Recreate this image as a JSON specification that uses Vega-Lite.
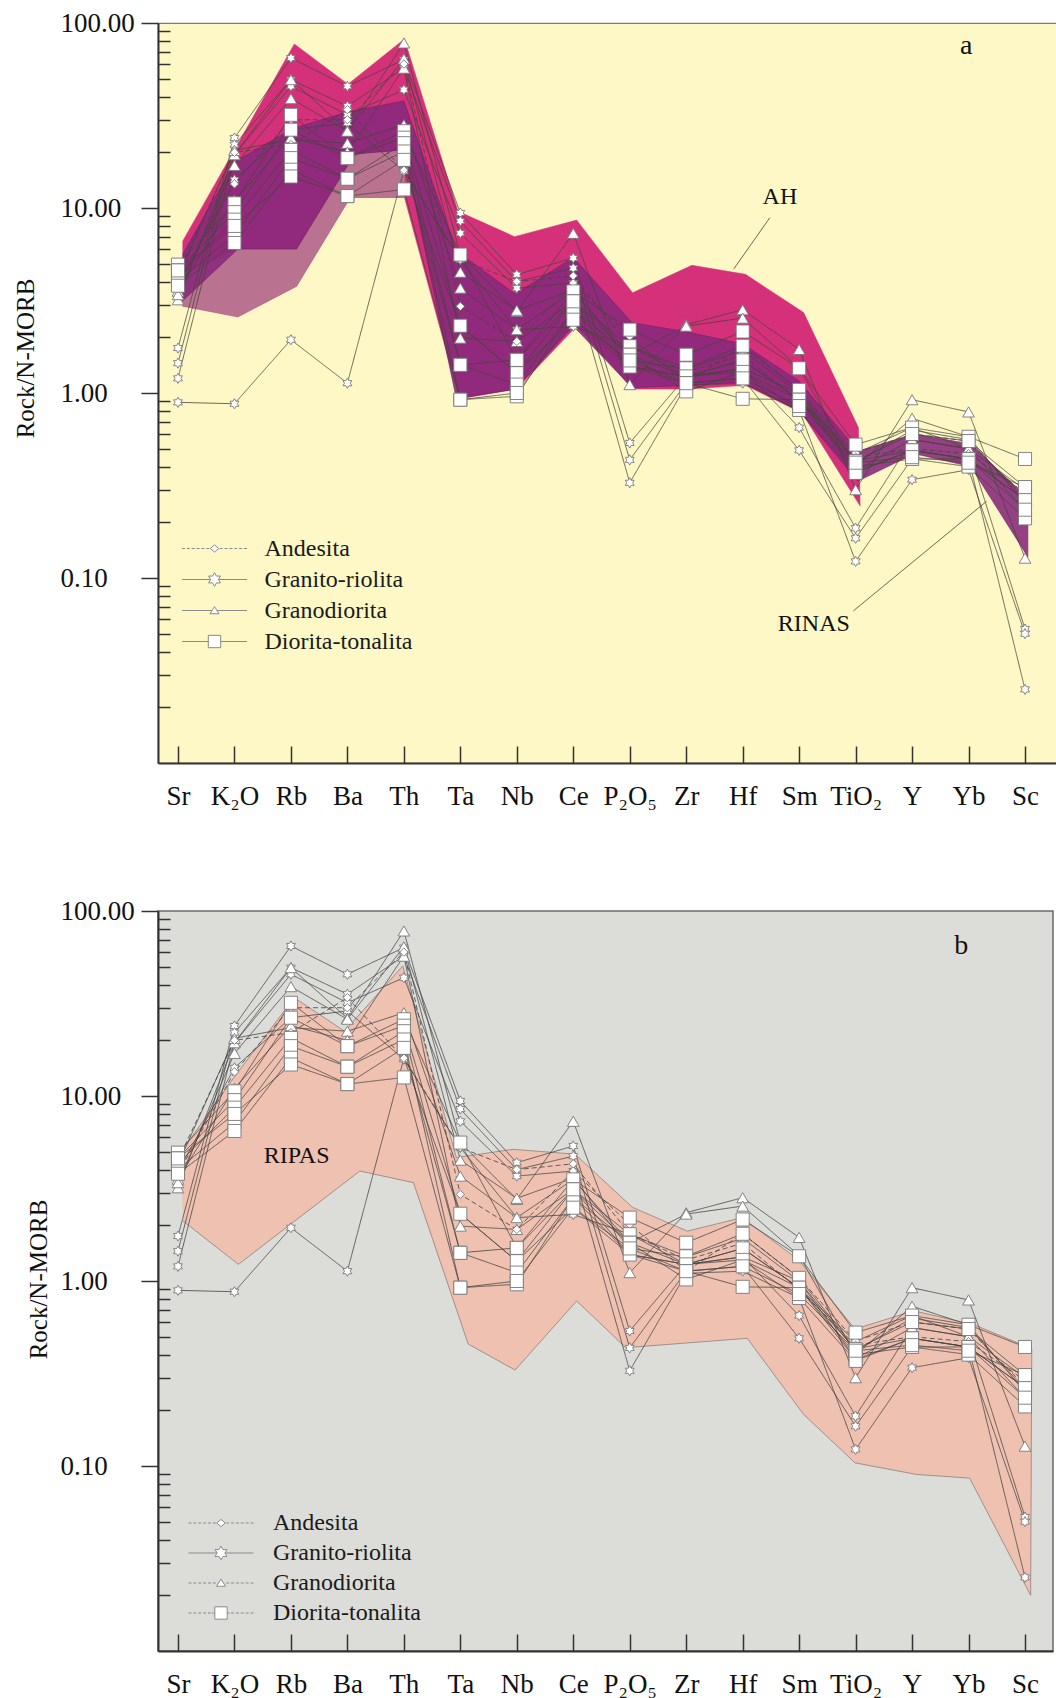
{
  "$schema": "https://vega.github.io/schema/vega-lite/v6.json",
  "padding": {"left": 12, "top": 8, "right": 0, "bottom": 0},
  "bounds": "flush",
  "spacing": 148,
  "background": "white",
  "config": {
    "font": "Liberation Serif",
    "axis": {"labelFont": "Liberation Serif", "titleFont": "Liberation Serif", "grid": false},
    "legend": {"labelFont": "Liberation Serif"}
  },
  "datasets": {
    "elements": [
      {"e": "Sr", "idx": 1}, {"e": "K2O", "idx": 2}, {"e": "Rb", "idx": 3}, {"e": "Ba", "idx": 4},
      {"e": "Th", "idx": 5}, {"e": "Ta", "idx": 6}, {"e": "Nb", "idx": 7}, {"e": "Ce", "idx": 8},
      {"e": "P2O5", "idx": 9}, {"e": "Zr", "idx": 10}, {"e": "Hf", "idx": 11}, {"e": "Sm", "idx": 12},
      {"e": "TiO2", "idx": 13}, {"e": "Y", "idx": 14}, {"e": "Yb", "idx": 15}, {"e": "Sc", "idx": 16}
    ],
    "types": [{"t": "Andesita"}, {"t": "Granito-riolita"}, {"t": "Granodiorita"}, {"t": "Diorita-tonalita"}],
    "samples": [
      {"s": "G1", "t": "Granito-riolita", "Sr": 0.89, "K2O": 0.875, "Rb": 1.94, "Ba": 1.13, "Th": 16, "Ta": 2.31, "Nb": 1.28, "Ce": 2.49, "P2O5": 1.39, "Zr": 1.23, "Hf": 1.3, "Sm": 0.92, "TiO2": 0.43, "Y": 0.49, "Yb": 0.44, "Sc": 0.265},
      {"s": "G2", "t": "Granito-riolita", "Sr": 1.75, "K2O": 23.9, "Rb": 64.7, "Ba": 45.5, "Th": 63.4, "Ta": 9.4, "Nb": 4.36, "Ce": 5.37, "P2O5": 0.537, "Zr": 1.23, "Hf": 1.35, "Sm": 0.65, "TiO2": 0.186, "Y": 0.56, "Yb": 0.5, "Sc": 0.053},
      {"s": "G3", "t": "Granito-riolita", "Sr": 1.45, "K2O": 22, "Rb": 49.4, "Ba": 35.5, "Th": 57.1, "Ta": 8.5, "Nb": 4.0, "Ce": 4.73, "P2O5": 0.435, "Zr": 1.13, "Hf": 1.2, "Sm": 0.49, "TiO2": 0.164, "Y": 0.44, "Yb": 0.44, "Sc": 0.025},
      {"s": "G4", "t": "Granito-riolita", "Sr": 1.2, "K2O": 19.4, "Rb": 45.5, "Ba": 31.9, "Th": 43.6, "Ta": 7.3, "Nb": 3.69, "Ce": 3.93, "P2O5": 0.327, "Zr": 1.1, "Hf": 1.13, "Sm": 0.81, "TiO2": 0.123, "Y": 0.34, "Yb": 0.385, "Sc": 0.05},
      {"s": "G5", "t": "Granito-riolita", "Sr": 3.9, "K2O": 14.2, "Rb": 26.5, "Ba": 28.8, "Th": 15.8, "Ta": 5.26, "Nb": 2.2, "Ce": 2.29, "P2O5": 1.79, "Zr": 1.23, "Hf": 1.5, "Sm": 0.92, "TiO2": 0.47, "Y": 0.65, "Yb": 0.5, "Sc": 0.3},
      {"s": "T1", "t": "Granodiorita", "Sr": 3.19, "K2O": 19.4, "Rb": 49.4, "Ba": 26.3, "Th": 78, "Ta": 5.6, "Nb": 2.76, "Ce": 7.3, "P2O5": 1.11, "Zr": 2.34, "Hf": 2.82, "Sm": 1.72, "TiO2": 0.3, "Y": 0.92, "Yb": 0.79, "Sc": 0.128},
      {"s": "T2", "t": "Granodiorita", "Sr": 4.27, "K2O": 20.5, "Rb": 23.4, "Ba": 22.4, "Th": 28.2, "Ta": 3.69, "Nb": 2.2, "Ce": 3.54, "P2O5": 1.61, "Zr": 2.3, "Hf": 2.54, "Sm": 1.37, "TiO2": 0.4, "Y": 0.73, "Yb": 0.58, "Sc": 0.25},
      {"s": "T3", "t": "Granodiorita", "Sr": 3.55, "K2O": 11, "Rb": 24, "Ba": 20, "Th": 57, "Ta": 1.98, "Nb": 1.9, "Ce": 3.13, "P2O5": 1.39, "Zr": 1.23, "Hf": 1.35, "Sm": 1.0, "TiO2": 0.38, "Y": 0.56, "Yb": 0.5, "Sc": 0.234},
      {"s": "T4", "t": "Granodiorita", "Sr": 3.4, "K2O": 17, "Rb": 39, "Ba": 26, "Th": 64, "Ta": 4.5, "Nb": 2.8, "Ce": 3.6, "P2O5": 1.5, "Zr": 1.35, "Hf": 1.7, "Sm": 1.0, "TiO2": 0.42, "Y": 0.63, "Yb": 0.56, "Sc": 0.26},
      {"s": "A1", "t": "Andesita", "Sr": 3.8, "K2O": 13.5, "Rb": 30, "Ba": 30, "Th": 60, "Ta": 2.94, "Nb": 1.9, "Ce": 3.93, "P2O5": 2.02, "Zr": 1.13, "Hf": 1.8, "Sm": 1.04, "TiO2": 0.474, "Y": 0.6, "Yb": 0.55, "Sc": 0.27},
      {"s": "A2", "t": "Andesita", "Sr": 4.5, "K2O": 20, "Rb": 22, "Ba": 34, "Th": 16, "Ta": 5.26, "Nb": 4.0, "Ce": 4.3, "P2O5": 1.8, "Zr": 1.3, "Hf": 1.6, "Sm": 0.9, "TiO2": 0.45, "Y": 0.5, "Yb": 0.47, "Sc": 0.29},
      {"s": "D1", "t": "Diorita-tonalita", "Sr": 4.94, "K2O": 10.6, "Rb": 31.9, "Ba": 18.6, "Th": 26, "Ta": 5.6, "Nb": 1.51, "Ce": 3.54, "P2O5": 2.2, "Zr": 1.61, "Hf": 2.15, "Sm": 1.36, "TiO2": 0.526, "Y": 0.65, "Yb": 0.58, "Sc": 0.44},
      {"s": "D2", "t": "Diorita-tonalita", "Sr": 4.6, "K2O": 9.5, "Rb": 26.5, "Ba": 18.6, "Th": 24, "Ta": 2.31, "Nb": 1.28, "Ce": 3.13, "P2O5": 1.79, "Zr": 1.36, "Hf": 1.8, "Sm": 1.04, "TiO2": 0.428, "Y": 0.6, "Yb": 0.55, "Sc": 0.31},
      {"s": "D3", "t": "Diorita-tonalita", "Sr": 4.3, "K2O": 8.65, "Rb": 20.6, "Ba": 14.4, "Th": 22.4, "Ta": 1.42, "Nb": 1.11, "Ce": 2.82, "P2O5": 1.61, "Zr": 1.23, "Hf": 1.5, "Sm": 0.92, "TiO2": 0.377, "Y": 0.49, "Yb": 0.44, "Sc": 0.265},
      {"s": "D4", "t": "Diorita-tonalita", "Sr": 4.0, "K2O": 7.17, "Rb": 18.6, "Ba": 14.4, "Th": 20.2, "Ta": 0.92, "Nb": 0.96, "Ce": 2.82, "P2O5": 1.39, "Zr": 1.13, "Hf": 0.93, "Sm": 0.92, "TiO2": 0.4, "Y": 0.44, "Yb": 0.4, "Sc": 0.21},
      {"s": "D5", "t": "Diorita-tonalita", "Sr": 3.8, "K2O": 6.47, "Rb": 16.1, "Ba": 11.6, "Th": 18.2, "Ta": 1.42, "Nb": 1.51, "Ce": 3.13, "P2O5": 1.61, "Zr": 1.02, "Hf": 1.3, "Sm": 0.81, "TiO2": 0.37, "Y": 0.49, "Yb": 0.44, "Sc": 0.234},
      {"s": "D6", "t": "Diorita-tonalita", "Sr": 4.6, "K2O": 8.0, "Rb": 14.8, "Ba": 11.6, "Th": 12.6, "Ta": 0.92, "Nb": 1.0, "Ce": 2.49, "P2O5": 1.5, "Zr": 1.13, "Hf": 1.2, "Sm": 0.85, "TiO2": 0.42, "Y": 0.45, "Yb": 0.42, "Sc": 0.31}
    ],
    "fa_pink": [
      {"i": 1, "p": 1.08, "v": 6.6}, {"i": 2, "p": 3.06, "v": 77}, {"i": 3, "p": 4.01, "v": 46.7}, {"i": 4, "p": 5.01, "v": 82},
      {"i": 5, "p": 5.96, "v": 9.6}, {"i": 6, "p": 6.96, "v": 7.0}, {"i": 7, "p": 8.06, "v": 8.6}, {"i": 8, "p": 9.05, "v": 3.48},
      {"i": 9, "p": 10.1, "v": 4.9}, {"i": 10, "p": 11.05, "v": 4.38}, {"i": 11, "p": 12.08, "v": 2.72}, {"i": 12, "p": 13.05, "v": 0.65},
      {"i": 13, "p": 13.08, "v": 0.245}, {"i": 14, "p": 12.05, "v": 0.78}, {"i": 15, "p": 11.05, "v": 1.1}, {"i": 16, "p": 10.05, "v": 1.05},
      {"i": 17, "p": 9.05, "v": 1.05}, {"i": 18, "p": 8.06, "v": 2.3}, {"i": 19, "p": 7.0, "v": 1.05}, {"i": 20, "p": 5.98, "v": 0.93},
      {"i": 21, "p": 5.01, "v": 11.4}, {"i": 22, "p": 4.05, "v": 11.4}, {"i": 23, "p": 3.1, "v": 3.78}, {"i": 24, "p": 2.06, "v": 2.58},
      {"i": 25, "p": 1.08, "v": 2.95}
    ],
    "fa_mauve": [
      {"i": 1, "p": 1.08, "v": 4.4}, {"i": 2, "p": 2.06, "v": 6.0}, {"i": 3, "p": 3.1, "v": 6.0}, {"i": 4, "p": 4.13, "v": 19.6},
      {"i": 5, "p": 5.01, "v": 20.6}, {"i": 6, "p": 5.01, "v": 11.4}, {"i": 7, "p": 4.05, "v": 11.4}, {"i": 8, "p": 3.1, "v": 3.78},
      {"i": 9, "p": 2.06, "v": 2.58}, {"i": 10, "p": 1.08, "v": 2.95}
    ],
    "fa_purple": [
      {"i": 1, "p": 1.08, "v": 5.6}, {"i": 2, "p": 2.02, "v": 17.9}, {"i": 3, "p": 3.05, "v": 27}, {"i": 4, "p": 4.0, "v": 33},
      {"i": 5, "p": 5.0, "v": 37.9}, {"i": 6, "p": 5.93, "v": 5.86}, {"i": 7, "p": 6.97, "v": 3.43}, {"i": 8, "p": 8.0, "v": 5.4},
      {"i": 9, "p": 9.04, "v": 2.4}, {"i": 10, "p": 10.08, "v": 2.12}, {"i": 11, "p": 11.0, "v": 1.84}, {"i": 12, "p": 12.0, "v": 1.16},
      {"i": 13, "p": 13.04, "v": 0.485}, {"i": 14, "p": 14.04, "v": 0.6}, {"i": 15, "p": 15.04, "v": 0.53}, {"i": 16, "p": 16.05, "v": 0.27},
      {"i": 17, "p": 16.05, "v": 0.13}, {"i": 18, "p": 15.04, "v": 0.4}, {"i": 19, "p": 14.04, "v": 0.47}, {"i": 20, "p": 13.04, "v": 0.334},
      {"i": 21, "p": 12.0, "v": 0.8}, {"i": 22, "p": 11.0, "v": 1.15}, {"i": 23, "p": 10.08, "v": 1.1}, {"i": 24, "p": 9.04, "v": 1.07},
      {"i": 25, "p": 8.0, "v": 2.3}, {"i": 26, "p": 6.97, "v": 1.05}, {"i": 27, "p": 5.93, "v": 0.93}, {"i": 28, "p": 5.0, "v": 20.6},
      {"i": 29, "p": 4.13, "v": 19.6}, {"i": 30, "p": 3.1, "v": 6.0}, {"i": 31, "p": 2.06, "v": 6.0}, {"i": 32, "p": 1.08, "v": 3.14}
    ],
    "fb_ripas": [
      {"i": 1, "p": 1.04, "v": 4.9}, {"i": 2, "p": 1.99, "v": 12.6}, {"i": 3, "p": 3.06, "v": 34}, {"i": 4, "p": 3.95, "v": 22.4},
      {"i": 5, "p": 4.98, "v": 50.5}, {"i": 6, "p": 5.93, "v": 4.65}, {"i": 7, "p": 6.93, "v": 5.15}, {"i": 8, "p": 8.03, "v": 4.85},
      {"i": 9, "p": 9.05, "v": 2.5}, {"i": 10, "p": 10.02, "v": 1.86}, {"i": 11, "p": 10.99, "v": 2.2}, {"i": 12, "p": 11.99, "v": 1.3},
      {"i": 13, "p": 12.99, "v": 0.55}, {"i": 14, "p": 14.03, "v": 0.69}, {"i": 15, "p": 15.1, "v": 0.58}, {"i": 16, "p": 16.12, "v": 0.43},
      {"i": 17, "p": 16.1, "v": 0.02}, {"i": 18, "p": 15.02, "v": 0.086}, {"i": 19, "p": 14.08, "v": 0.09}, {"i": 20, "p": 12.99, "v": 0.104},
      {"i": 21, "p": 12.08, "v": 0.19}, {"i": 22, "p": 11.08, "v": 0.49}, {"i": 23, "p": 8.93, "v": 0.436}, {"i": 24, "p": 8.06, "v": 0.78},
      {"i": 25, "p": 6.97, "v": 0.33}, {"i": 26, "p": 6.14, "v": 0.456}, {"i": 27, "p": 5.17, "v": 3.4}, {"i": 28, "p": 4.22, "v": 3.93},
      {"i": 29, "p": 2.07, "v": 1.23}, {"i": 30, "p": 1.09, "v": 2.11}
    ],
    "labels": [
      {"panel": "a", "kind": "field", "text": "AH", "p": 11.66, "v": 11.4},
      {"panel": "a", "kind": "field", "text": "RINAS", "p": 12.26, "v": 0.0562},
      {"panel": "a", "kind": "letter", "text": "a", "p": 14.96, "v": 75},
      {"panel": "b", "kind": "field", "text": "RIPAS", "p": 3.1, "v": 4.74},
      {"panel": "b", "kind": "letter", "text": "b", "p": 14.87, "v": 64.7}
    ],
    "leaders": [
      {"panel": "a", "p1": 11.48, "v1": 8.86, "p2": 10.84, "v2": 4.67},
      {"panel": "a", "p1": 12.96, "v1": 0.0664, "p2": 15.32, "v2": 0.26}
    ]
  },
  "resolve": {"scale": {"shape": "independent", "size": "independent", "strokeDash": "independent"}, "legend": {"shape": "independent"}},
  "vconcat": [
    {
      "width": 900,
      "height": 740,
      "view": {"fill": "#fdf8c5", "stroke": "#7a7a7a", "strokeWidth": 1.2},
      "resolve": {"axis": {"x": "independent", "y": "independent"}, "scale": {"shape": "independent", "size": "independent"}, "legend": {"shape": "independent"}},
      "layer": [
        {
          "data": {"name": "fa_pink"},
          "mark": {"type": "line", "fill": "#d5307a", "stroke": "#d5307a", "strokeWidth": 0.5},
          "encoding": {
            "x": {"field": "p", "type": "quantitative", "scale": {"domain": [0.646, 16.584], "nice": false, "zero": false},
              "axis": {"orient": "bottom", "values": [1,2,3,4,5,6,7,8,9,10,11,12,13,14,15,16], "labelExpr": "['Sr','K₂O','Rb','Ba','Th','Ta','Nb','Ce','P₂O₅','Zr','Hf','Sm','TiO₂','Y','Yb','Sc'][datum.value-1]", "ticks": false, "tickSize": 0, "domain": true, "domainColor": "#333333", "domainWidth": 2, "labelFontSize": 27, "labelColor": "#111111", "labelPadding": 20, "labelFlush": false, "labelOverlap": false, "labelBound": false, "labelDx": 7, "title": null, "grid": false}},
            "y": {"field": "v", "type": "quantitative", "scale": {"type": "log", "domain": [0.01, 100], "nice": false},
              "axis": {"orient": "left", "values": [0.1, 1, 10, 100], "format": ".2f", "tickSize": 17, "tickColor": "#333333", "tickWidth": 1.5, "domain": true, "domainColor": "#333333", "domainWidth": 2, "labelAlign": "left", "labelBaseline": "middle", "labelPadding": 81, "labelFontSize": 27, "labelColor": "#111111", "labelOverlap": false, "labelFlush": false, "labelBound": false, "title": "Rock/N-MORB", "titleFontSize": 25, "titleFontWeight": "normal", "titleColor": "#111111", "titleX": -133, "titleY": 335, "titleAngle": -90, "titleBaseline": "middle", "titleAlign": "center", "grid": false}},
            "order": {"field": "i", "type": "quantitative"}
          }
        },
        {
          "data": {"name": "fa_mauve"},
          "mark": {"type": "line", "fill": "#b9728f", "stroke": "#b9728f", "strokeWidth": 0.5},
          "encoding": {
            "x": {"field": "p", "type": "quantitative", "scale": {"domain": [0.646, 16.584], "nice": false, "zero": false},
              "axis": {"orient": "bottom", "values": [1,2,3,4,5,6,7,8,9,10,11,12,13,14,15,16], "labels": false, "ticks": true, "tickSize": -17, "tickColor": "#333333", "tickWidth": 1.5, "domain": false, "grid": false, "title": null}},
            "y": {"field": "v", "type": "quantitative", "scale": {"type": "log", "domain": [0.01, 100], "nice": false},
              "axis": {"orient": "left", "values": [0.02,0.03,0.04,0.05,0.06,0.07,0.08,0.09,0.2,0.3,0.4,0.5,0.6,0.7,0.8,0.9,2,3,4,5,6,7,8,9,20,30,40,50,60,70,80,90], "labels": false, "ticks": true, "tickSize": -12, "tickColor": "#333333", "tickWidth": 1.5, "domain": false, "grid": false, "title": null}},
            "order": {"field": "i", "type": "quantitative"}
          }
        },
        {
          "data": {"name": "fa_purple"},
          "mark": {"type": "line", "fill": "#8a2a7c", "fillOpacity": 0.9, "stroke": "#6e1f63", "strokeWidth": 0.6},
          "encoding": {
            "x": {"field": "p", "type": "quantitative", "axis": null},
            "y": {"field": "v", "type": "quantitative", "axis": null},
            "order": {"field": "i", "type": "quantitative"}
          }
        },
        {
          "data": {"name": "samples"},
          "transform": [
            {"fold": ["Sr","K2O","Rb","Ba","Th","Ta","Nb","Ce","P2O5","Zr","Hf","Sm","TiO2","Y","Yb","Sc"], "as": ["e", "v"]},
            {"lookup": "e", "from": {"data": {"name": "elements"}, "key": "e", "fields": ["idx"]}}
          ],
          "mark": {"type": "line", "stroke": "#45453a", "strokeWidth": 0.8},
          "encoding": {
            "x": {"field": "idx", "type": "quantitative", "axis": null},
            "y": {"field": "v", "type": "quantitative", "axis": null},
            "detail": {"field": "s"},
            "order": {"field": "idx", "type": "quantitative"},
            "strokeDash": {"field": "t", "type": "nominal", "scale": {"domain": ["Andesita","Granito-riolita","Granodiorita","Diorita-tonalita"], "range": [[5,3],[1,0],[1,0],[1,0]]}, "legend": null}
          }
        },
        {
          "data": {"name": "samples"},
          "transform": [
            {"fold": ["Sr","K2O","Rb","Ba","Th","Ta","Nb","Ce","P2O5","Zr","Hf","Sm","TiO2","Y","Yb","Sc"], "as": ["e", "v"]},
            {"lookup": "e", "from": {"data": {"name": "elements"}, "key": "e", "fields": ["idx"]}}
          ],
          "mark": {"type": "point", "filled": true, "fill": "white", "stroke": "#777777", "strokeWidth": 0.9, "opacity": 1},
          "encoding": {
            "x": {"field": "idx", "type": "quantitative", "axis": null},
            "y": {"field": "v", "type": "quantitative", "axis": null},
            "shape": {"field": "t", "type": "nominal", "scale": {"domain": ["Andesita","Granito-riolita","Granodiorita","Diorita-tonalita"], "range": ["diamond", "M0,-1L0.289,-0.5L0.866,-0.5L0.577,0L0.866,0.5L0.289,0.5L0,1L-0.289,0.5L-0.866,0.5L-0.577,0L-0.866,-0.5L-0.289,-0.5Z", "triangle-up", "square"]}, "legend": null},
            "size": {"field": "t", "type": "nominal", "scale": {"domain": ["Andesita","Granito-riolita","Granodiorita","Diorita-tonalita"], "range": [70, 170, 80, 130]}, "legend": null}
          }
        },
        {
          "data": {"name": "leaders"},
          "transform": [{"filter": "datum.panel == 'a'"}],
          "mark": {"type": "rule", "stroke": "#5a5a4a", "strokeWidth": 0.9},
          "encoding": {
            "x": {"field": "p1", "type": "quantitative", "axis": null},
            "y": {"field": "v1", "type": "quantitative", "axis": null},
            "x2": {"field": "p2"},
            "y2": {"field": "v2"}
          }
        },
        {
          "data": {"name": "labels"},
          "transform": [{"filter": "datum.panel == 'a' && datum.kind == 'field'"}],
          "mark": {"type": "text", "font": "Liberation Serif", "fontSize": 24, "color": "#111111", "align": "center", "baseline": "middle"},
          "encoding": {
            "x": {"field": "p", "type": "quantitative", "axis": null},
            "y": {"field": "v", "type": "quantitative", "axis": null},
            "text": {"field": "text"}
          }
        },
        {
          "data": {"name": "labels"},
          "transform": [{"filter": "datum.panel == 'a' && datum.kind == 'letter'"}],
          "mark": {"type": "text", "font": "Liberation Serif", "fontSize": 28, "color": "#111111", "align": "center", "baseline": "middle"},
          "encoding": {
            "x": {"field": "p", "type": "quantitative", "axis": null},
            "y": {"field": "v", "type": "quantitative", "axis": null},
            "text": {"field": "text"}
          }
        },
        {
          "data": {"name": "types"},
          "mark": {"type": "point", "filled": true, "fill": "white", "stroke": "#8a8a8a", "strokeWidth": 1, "opacity": 0, "size": 4225},
          "encoding": {
            "shape": {"field": "t", "type": "nominal",
              "scale": {"domain": ["Andesita","Granito-riolita","Granodiorita","Diorita-tonalita"],
                "range": [
                  "M-1,0H-0.91M-0.85,0H-0.76M-0.7,0H-0.61M-0.55,0H-0.46M-0.4,0H-0.31M-0.25,0H-0.16M0.16,0H0.25M0.31,0H0.4M0.46,0H0.55M0.61,0H0.7M0.76,0H0.85M0.91,0H1M-0.13,0L0,-0.11L0.13,0L0,0.11Z",
                  "M-1,0H-0.12M0.12,0H1M0,-0.21L0.061,-0.105L0.182,-0.105L0.121,0L0.182,0.105L0.061,0.105L0,0.21L-0.061,0.105L-0.182,0.105L-0.121,0L-0.182,-0.105L-0.061,-0.105Z",
                  "M-1,0H-0.08M0.08,0H1M0,-0.12L0.14,0.1L-0.14,0.1Z",
                  "M-1,0H-0.19M0.19,0H1M-0.19,-0.19H0.19V0.19H-0.19Z"
                ]},
              "legend": {"title": null, "orient": "none", "legendX": 23.5, "legendY": 510, "padding": 0, "labelFontSize": 24, "labelColor": "#1a1a1a", "symbolSize": 4225, "symbolStrokeWidth": 1, "symbolFillColor": "white", "symbolOpacity": 1, "labelOffset": 17, "clipHeight": 31, "rowPadding": 0}}
          }
        }
      ]
    },
    {
      "width": 895,
      "height": 740,
      "view": {"fill": "#dcdcd9", "stroke": "#6a6a6a", "strokeWidth": 1.5},
      "resolve": {"axis": {"x": "independent", "y": "independent"}, "scale": {"shape": "independent", "size": "independent"}, "legend": {"shape": "independent"}},
      "layer": [
        {
          "data": {"name": "fb_ripas"},
          "mark": {"type": "line", "fill": "#efc1b1", "stroke": "#8f7f78", "strokeWidth": 0.8},
          "encoding": {
            "x": {"field": "p", "type": "quantitative", "scale": {"domain": [0.646, 16.496], "nice": false, "zero": false},
              "axis": {"orient": "bottom", "values": [1,2,3,4,5,6,7,8,9,10,11,12,13,14,15,16], "labelExpr": "['Sr','K₂O','Rb','Ba','Th','Ta','Nb','Ce','P₂O₅','Zr','Hf','Sm','TiO₂','Y','Yb','Sc'][datum.value-1]", "ticks": false, "tickSize": 0, "domain": true, "domainColor": "#333333", "domainWidth": 2, "labelFontSize": 27, "labelColor": "#111111", "labelPadding": 20, "labelFlush": false, "labelOverlap": false, "labelBound": false, "labelDx": 7, "title": null, "grid": false}},
            "y": {"field": "v", "type": "quantitative", "scale": {"type": "log", "domain": [0.01, 100], "nice": false},
              "axis": {"orient": "left", "values": [0.1, 1, 10, 100], "format": ".2f", "tickSize": 17, "tickColor": "#333333", "tickWidth": 1.5, "domain": true, "domainColor": "#333333", "domainWidth": 2, "labelAlign": "left", "labelBaseline": "middle", "labelPadding": 81, "labelFontSize": 27, "labelColor": "#111111", "labelOverlap": false, "labelFlush": false, "labelBound": false, "title": "Rock/N-MORB", "titleFontSize": 25, "titleFontWeight": "normal", "titleColor": "#111111", "titleX": -119.5, "titleY": 368, "titleAngle": -90, "titleBaseline": "middle", "titleAlign": "center", "grid": false}},
            "order": {"field": "i", "type": "quantitative"}
          }
        },
        {
          "data": {"name": "fb_ripas"},
          "mark": {"type": "line", "fill": "#efc1b1", "fillOpacity": 0, "strokeOpacity": 0},
          "encoding": {
            "x": {"field": "p", "type": "quantitative", "scale": {"domain": [0.646, 16.496], "nice": false, "zero": false},
              "axis": {"orient": "bottom", "values": [1,2,3,4,5,6,7,8,9,10,11,12,13,14,15,16], "labels": false, "ticks": true, "tickSize": -17, "tickColor": "#333333", "tickWidth": 1.5, "domain": false, "grid": false, "title": null}},
            "y": {"field": "v", "type": "quantitative", "scale": {"type": "log", "domain": [0.01, 100], "nice": false},
              "axis": {"orient": "left", "values": [0.02,0.03,0.04,0.05,0.06,0.07,0.08,0.09,0.2,0.3,0.4,0.5,0.6,0.7,0.8,0.9,2,3,4,5,6,7,8,9,20,30,40,50,60,70,80,90], "labels": false, "ticks": true, "tickSize": -12, "tickColor": "#333333", "tickWidth": 1.5, "domain": false, "grid": false, "title": null}},
            "order": {"field": "i", "type": "quantitative"}
          }
        },
        {
          "data": {"name": "samples"},
          "transform": [
            {"fold": ["Sr","K2O","Rb","Ba","Th","Ta","Nb","Ce","P2O5","Zr","Hf","Sm","TiO2","Y","Yb","Sc"], "as": ["e", "v"]},
            {"lookup": "e", "from": {"data": {"name": "elements"}, "key": "e", "fields": ["idx"]}}
          ],
          "mark": {"type": "line", "stroke": "#404040", "strokeWidth": 0.8},
          "encoding": {
            "x": {"field": "idx", "type": "quantitative", "axis": null},
            "y": {"field": "v", "type": "quantitative", "axis": null},
            "detail": {"field": "s"},
            "order": {"field": "idx", "type": "quantitative"},
            "strokeDash": {"field": "t", "type": "nominal", "scale": {"domain": ["Andesita","Granito-riolita","Granodiorita","Diorita-tonalita"], "range": [[5,3],[1,0],[1,0],[1,0]]}, "legend": null}
          }
        },
        {
          "data": {"name": "samples"},
          "transform": [
            {"fold": ["Sr","K2O","Rb","Ba","Th","Ta","Nb","Ce","P2O5","Zr","Hf","Sm","TiO2","Y","Yb","Sc"], "as": ["e", "v"]},
            {"lookup": "e", "from": {"data": {"name": "elements"}, "key": "e", "fields": ["idx"]}}
          ],
          "mark": {"type": "point", "filled": true, "fill": "white", "stroke": "#777777", "strokeWidth": 0.9, "opacity": 1},
          "encoding": {
            "x": {"field": "idx", "type": "quantitative", "axis": null},
            "y": {"field": "v", "type": "quantitative", "axis": null},
            "shape": {"field": "t", "type": "nominal", "scale": {"domain": ["Andesita","Granito-riolita","Granodiorita","Diorita-tonalita"], "range": ["diamond", "M0,-1L0.289,-0.5L0.866,-0.5L0.577,0L0.866,0.5L0.289,0.5L0,1L-0.289,0.5L-0.866,0.5L-0.577,0L-0.866,-0.5L-0.289,-0.5Z", "triangle-up", "square"]}, "legend": null},
            "size": {"field": "t", "type": "nominal", "scale": {"domain": ["Andesita","Granito-riolita","Granodiorita","Diorita-tonalita"], "range": [70, 170, 80, 130]}, "legend": null}
          }
        },
        {
          "data": {"name": "labels"},
          "transform": [{"filter": "datum.panel == 'b' && datum.kind == 'field'"}],
          "mark": {"type": "text", "font": "Liberation Serif", "fontSize": 24, "color": "#111111", "align": "center", "baseline": "middle"},
          "encoding": {
            "x": {"field": "p", "type": "quantitative", "axis": null},
            "y": {"field": "v", "type": "quantitative", "axis": null},
            "text": {"field": "text"}
          }
        },
        {
          "data": {"name": "labels"},
          "transform": [{"filter": "datum.panel == 'b' && datum.kind == 'letter'"}],
          "mark": {"type": "text", "font": "Liberation Serif", "fontSize": 28, "color": "#111111", "align": "center", "baseline": "middle"},
          "encoding": {
            "x": {"field": "p", "type": "quantitative", "axis": null},
            "y": {"field": "v", "type": "quantitative", "axis": null},
            "text": {"field": "text"}
          }
        },
        {
          "data": {"name": "types"},
          "mark": {"type": "point", "filled": true, "fill": "white", "stroke": "#8a8a8a", "strokeWidth": 1, "opacity": 0, "size": 4225},
          "encoding": {
            "shape": {"field": "t", "type": "nominal",
              "scale": {"domain": ["Andesita","Granito-riolita","Granodiorita","Diorita-tonalita"],
                "range": [
                  "M-1,0H-0.91M-0.85,0H-0.76M-0.7,0H-0.61M-0.55,0H-0.46M-0.4,0H-0.31M-0.25,0H-0.16M0.16,0H0.25M0.31,0H0.4M0.46,0H0.55M0.61,0H0.7M0.76,0H0.85M0.91,0H1M-0.13,0L0,-0.11L0.13,0L0,0.11Z",
                  "M-1,0H-0.12M0.12,0H1M0,-0.21L0.061,-0.105L0.182,-0.105L0.121,0L0.182,0.105L0.061,0.105L0,0.21L-0.061,0.105L-0.182,0.105L-0.121,0L-0.182,-0.105L-0.061,-0.105Z",
                  "M-1,0H-0.91M-0.85,0H-0.76M-0.7,0H-0.61M-0.55,0H-0.46M-0.4,0H-0.31M-0.25,0H-0.16M0.16,0H0.25M0.31,0H0.4M0.46,0H0.55M0.61,0H0.7M0.76,0H0.85M0.91,0H1M0,-0.12L0.14,0.1L-0.14,0.1Z",
                  "M-1,0H-0.91M-0.85,0H-0.76M-0.7,0H-0.61M-0.55,0H-0.46M-0.4,0H-0.31M-0.27,0H-0.19M0.19,0H0.27M0.31,0H0.4M0.46,0H0.55M0.61,0H0.7M0.76,0H0.85M0.91,0H1M-0.19,-0.19H0.19V0.19H-0.19Z"
                ]},
              "legend": {"title": null, "orient": "none", "legendX": 30, "legendY": 597, "padding": 0, "labelFontSize": 24, "labelColor": "#1a1a1a", "symbolSize": 4225, "symbolStrokeWidth": 1, "symbolFillColor": "white", "symbolOpacity": 1, "labelOffset": 19, "clipHeight": 30, "rowPadding": 0}}
          }
        }
      ]
    }
  ]
}
